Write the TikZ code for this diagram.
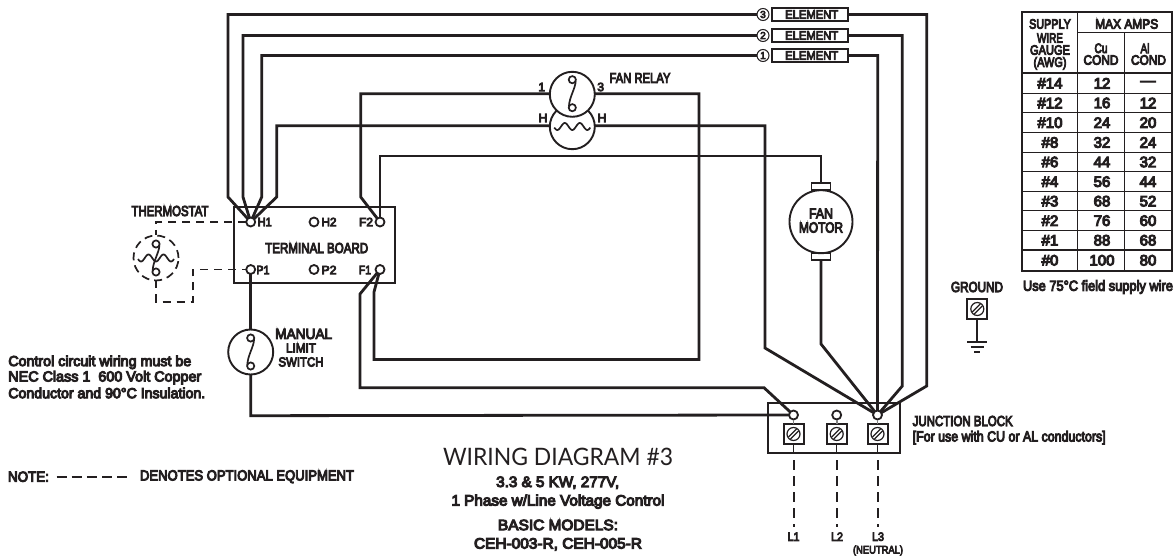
\documentclass[tikz,border=0pt]{standalone}
\usepackage{fontspec}
\usepackage{graphicx}
\setmainfont[FakeBold=7]{Liberation Sans}
\newfontfamily\titlefont{Lato}
\newcommand{\fw}[2]{\resizebox{#1pt}{\height}{#2}}
\definecolor{ink}{HTML}{231F20}
\tikzset{
  x=1pt,y=-1pt,
  every node/.style={text=ink,inner sep=0pt,outer sep=0pt},
  wire/.style={draw=ink,line width=2.8pt,line join=miter},
  opt/.style={draw=ink,line width=1.9pt,dash pattern=on 8pt off 6pt},
  optl/.style={draw=ink,line width=2pt,dash pattern=on 10pt off 6pt},
  term/.style={circle,draw=ink,line width=1.8pt,fill=white,minimum size=9pt},
  coil/.style={circle,draw=ink,line width=1.9pt,fill=white,minimum size=45pt},
  elem/.style={rectangle,draw=ink,line width=2pt,fill=white,minimum width=76pt,minimum height=13pt},
  num/.style={circle,draw=ink,line width=1pt,fill=white,minimum size=12pt,font=\fontsize{10}{10}\selectfont},
  lab/.style={font=\fontsize{14.5}{15}\selectfont},
  tlab/.style={font=\fontsize{12}{12}\selectfont},
  txt/.style={font=\fontsize{14.5}{15}\selectfont,anchor=west},
  ttl/.style={font=\fontsize{15}{15}\selectfont},
  cell/.style={font=\fontsize{15}{15}\selectfont},
  head/.style={font=\fontsize{13.5}{14}\selectfont},
  screwbox/.style={rectangle,draw=ink,line width=2pt,fill=white,minimum width=20pt,minimum height=20pt},
  switchglyph/.pic={
    \draw[ink,line width=1.7pt] (0,-14) circle (3.6);
    \draw[ink,line width=1.7pt] (0,14) circle (3.6);
    \draw[ink,line width=1.7pt] (3.4,-13) .. controls (3.2,-5) and (-3,3) .. (-3.4,13);
  },
  wave/.pic={
    \draw[ink,line width=1.7pt] plot[domain=-18:18,samples=61,smooth] (\x,{3.5*cos(24*\x)});
  },
  screw/.pic={
    \draw[ink,line width=1.2pt] (0,0) circle (6.5);
    \draw[ink,line width=1.2pt] (-5,3) -- (3,-5);
    \draw[ink,line width=1.2pt] (-3,5) -- (5,-3);
  },
}
\begin{document}
\begin{tikzpicture}
\useasboundingbox (0,0) rectangle (1176,556);
\fill[white] (0,0) rectangle (1176,556);

% terminal board
\node[rectangle,draw=ink,line width=1.7pt,minimum width=161pt,minimum height=76pt] (board) at (314.5,245) {};
\node[lab] (tbl) at (316.7,248) {\fw{103}{TERMINAL BOARD}};
\node[tlab] (lh1) at (264.7,222) {\fw{14}{H1}};
\node[tlab] (lh2) at (329,222) {\fw{15}{H2}};
\node[tlab] (lf2) at (366,222) {\fw{14}{F2}};
\node[tlab] (lp1) at (263,270) {\fw{13}{P1}};
\node[tlab] (lp2) at (329,270) {\fw{15}{P2}};
\node[tlab] (lf1) at (365,270) {\fw{12}{F1}};

% elements
\node[num] (c3) at (763,14.5) {3};
\node[num] (c2) at (763,35.5) {2};
\node[num] (c1) at (763,55.5) {1};
\node[elem] (e3) at (810,14.5) {};
\node[elem] (e2) at (810,35.5) {};
\node[elem] (e1) at (810,55.5) {};
\node[tlab] (te3) at (811.7,14.5) {\fw{53}{ELEMENT}};
\node[tlab] (te2) at (811.7,35.5) {\fw{53}{ELEMENT}};
\node[tlab] (te1) at (811.7,55.5) {\fw{53}{ELEMENT}};

% relay
\node[coil] (heat) at (572.3,126.7) {};
\node[coil] (rel) at (572.3,94.3) {};
\pic at (572.3,93.7) {switchglyph};
\pic at (572.3,126.5) {wave};
\node[lab] (trel) at (640,78) {\fw{61}{FAN RELAY}};
\node[tlab] (r1) at (541.7,87) {1};
\node[tlab] (r3) at (600.7,87) {3};
\node[tlab] (rh1) at (543,118) {H};
\node[tlab] (rh2) at (602,118) {H};

% motor
\node[rectangle,draw=ink,line width=1.5pt,fill=white,minimum width=19pt,minimum height=7pt] (bt) at (821,186.7) {};
\node[rectangle,draw=ink,line width=1.5pt,fill=white,minimum width=19pt,minimum height=7pt] (bb) at (821,256.7) {};
\node[circle,draw=ink,line width=1.9pt,fill=white,minimum size=63pt] (motor) at (821,221.7) {};
\node[lab] (tm1) at (821,213.5) {\fw{24}{FAN}};
\node[lab] (tm2) at (821,227.5) {\fw{44}{MOTOR}};

% junction block
\node[rectangle,draw=ink,line width=1.8pt,minimum width=132pt,minimum height=50pt] (jb) at (834,428) {};
\node[term] (t1) at (793.5,415) {};
\node[term] (t2) at (836.7,415) {};
\node[term] (t3) at (877.5,415) {};
\node[screwbox] (s1) at (793.5,434) {};
\node[screwbox] (s2) at (836.7,434) {};
\node[screwbox] (s3) at (877.5,434) {};
\pic at (793.5,434) {screw};
\pic at (836.7,434) {screw};
\pic at (877.5,434) {screw};
\draw[gray,line width=1.6pt] (t1) -- (s1);
\draw[gray,line width=1.6pt] (t2) -- (s2);
\draw[gray,line width=1.6pt] (t3) -- (s3);
\coordinate (b1) at (793.5,453);
\coordinate (b2) at (836.7,453);
\coordinate (b3) at (877.5,453);
\draw[ink,line width=1.4pt] (s1) -- (b1);
\draw[ink,line width=1.4pt] (s2) -- (b2);
\draw[ink,line width=1.4pt] (s3) -- (b3);
\node[tlab] (l1) at (793.5,536.7) {\fw{12}{L1}};
\node[tlab] (l2) at (837,536.7) {\fw{12}{L2}};
\node[tlab] (l3) at (878,536.7) {\fw{12}{L3}};
\node[font=\fontsize{11}{11}\selectfont] (neu) at (878,550.7) {\fw{50}{(NEUTRAL)}};
\draw[optl] (793.5,460) -- (793.5,527);
\draw[optl] (836.7,460) -- (836.7,527);
\draw[optl] (877.7,460) -- (877.7,527);
\node[txt] (jt1) at (912.7,421) {\fw{100}{JUNCTION BLOCK}};
\node[txt] (jt2) at (912.7,437.7) {\fw{193}{[For use with CU or AL conductors]}};

% board terminals
\node[term] (H1) at (250.7,222) {};
\node[term] (H2) at (314,222) {};
\node[term] (F2) at (380,222) {};
\node[term] (P1) at (250.7,269.5) {};
\node[term] (P2) at (314,269.5) {};
\node[term] (F1) at (380,269.5) {};

% wires to elements
\draw[wire] (H1) -- (228,197) -- (228,14.5) -- (c3);
\draw[wire] (H1) -- (243,197) -- (243,35.5) -- (c2);
\draw[wire] (H1) -- (261.7,197) -- (261.7,55.5) -- (c1);
\draw[wire] (H1) -- (276.7,197) -- (276.7,125.7) -- (heat.west |- 0,125.7);
\draw[wire] (e3) ++(38,0) -- (926.7,14.5) -- (926.7,386) -- (t3);
\draw[wire] (e2) ++(38,0) -- (902.3,35.5) -- (902.3,386) -- (t3);
\draw[wire] (e1) ++(38,0) -- (877.7,55.5) -- (t3);

% relay and motor wires
\draw[wire] (F2) -- (360.7,197) -- (360.7,93.7) -- (rel.west |- 0,93.7);
\draw[wire] (F2) -- (380,156) -- (821,156) -- (bt);
\draw[wire] (rel.east |- 0,93.7) -- (699,93.7) -- (699,359.5) -- (374,359.5) -- (374,292) -- (F1);
\draw[wire] (heat.east |- 0,125.7) -- (765,125.7) -- (765,348) -- (t3);
\draw[wire] (bb) -- (821,344) -- (t3);
\draw[wire] (F1) -- (360,294) -- (360,387.7) -- (764,387.7) -- (t1);

% manual limit switch
\node[coil] (mls) at (250.7,352) {};
\pic at (250.7,352) {switchglyph};
\draw[wire] (P1) -- (mls);
\draw[wire] (mls) -- (250.7,415.7) -- (t1);
\node[lab] (ms1) at (303.7,334) {\fw{57}{MANUAL}};
\node[font=\fontsize{13}{13}\selectfont] (ms2) at (301,348) {\fw{30}{LIMIT}};
\node[font=\fontsize{13}{13}\selectfont] (ms3) at (301,362) {\fw{45}{SWITCH}};

% thermostat
\node[circle,draw=ink,line width=1.7pt,dash pattern=on 8pt off 5pt,minimum size=45pt] (th) at (156,258) {};
\pic at (156,258) {switchglyph};
\pic at (156,258) {wave};
\draw[opt] (H1) -- (156,222) -- (th);
\draw[opt] (th) -- (156,302) -- (193,302) -- (193,269.5) -- (P1);
\node[lab] (tth) at (170,211) {\fw{77}{THERMOSTAT}};

% ground
\node[screwbox] (g) at (977.3,309) {};
\pic at (977.3,309) {screw};
\coordinate (gnd) at (977.3,341.7);
\draw[ink,line width=1.9pt] (g) -- (gnd);
\draw[ink,line width=1.9pt] (967,341.7) -- (987,341.7);
\draw[ink,line width=1.9pt] (970.7,346.7) -- (984,346.7);
\draw[ink,line width=1.9pt] (974,351.7) -- (980,351.7);
\node[lab] (tg) at (977,287) {\fw{52}{GROUND}};
\node[txt] (t75) at (1023,287) {\fw{150}{Use 75\textdegree C field supply wire}};

% left texts
\node[txt] (c1t) at (8.3,362.3) {\fw{183}{Control circuit wiring must be}};
\node[txt] (c2t) at (8.3,377.7) {\fw{193}{NEC Class 1\ \ 600 Volt Copper}};
\node[txt] (c3t) at (8.3,393) {\fw{197}{Conductor and 90\textdegree C Insulation.}};
\node[txt] (nt) at (8,476.7) {\fw{41}{NOTE:}};
\node[txt] (nd) at (140,476.7) {\fw{214}{DENOTES OPTIONAL EQUIPMENT}};
\draw[ink,line width=1.9pt,dash pattern=on 10pt off 5.2pt] (nt.east) ++(7.5,0) -- (128,476.7);

% title
\node[font=\titlefont\fontsize{24}{26}\selectfont] (tt) at (558,456.7) {\fw{230}{WIRING DIAGRAM \#3}};
\node[ttl] (t2a) at (557.7,482.7) {\fw{123}{3.3 \& 5 KW, 277V,}};
\node[ttl] (t2b) at (558,501.7) {\fw{213}{1 Phase w/Line Voltage Control}};
\node[ttl] (t2c) at (558,525) {\fw{120}{BASIC MODELS:}};
\node[ttl] (t2d) at (558,544.3) {\fw{168}{CEH-003-R, CEH-005-R}};

% table
\draw[ink,line width=2.1pt] (1022,12.3) rectangle (1172.3,270.7);
\draw[ink,line width=1.5pt] (1077.7,12.3) -- (1077.7,270.7);
\draw[ink,line width=1.5pt] (1124.3,32.3) -- (1124.3,270.7);
\draw[ink,line width=1.2pt] (1077.7,32.3) -- (1172.3,32.3);
\draw[ink,line width=1.9pt] (1022,73.3) -- (1172.3,73.3);
\foreach \yy in {93.3,112.7,132.7,152.3,171.7,191.7,210.7,230.7,250}
  \draw[ink,line width=1.2pt] (1022,\yy) -- (1172.3,\yy);
\node[head] (h1) at (1050,24) {\fw{41.7}{SUPPLY}};
\node[head] (h2) at (1050,38) {\fw{26}{WIRE}};
\node[head] (h3) at (1050,50) {\fw{40}{GAUGE}};
\node[head] (h4) at (1050,63.3) {\fw{33}{(AWG)}};
\node[head] (h5) at (1126.7,24) {\fw{63}{MAX AMPS}};
\node[head] (h6) at (1101,48.3) {\fw{13}{Cu}};
\node[head] (h7) at (1101,60) {\fw{35}{COND}};
\node[head] (h8) at (1145,48.3) {\fw{9}{Al}};
\node[head] (h9) at (1148.5,60) {\fw{35}{COND}};
\foreach \yy/\aa/\bb/\cc [count=\n] in {
  83.3/\#14/12/---,103/\#12/16/12,122.7/\#10/24/20,142.5/\#8/32/24,162/\#6/44/32,
  181.7/\#4/56/44,201.2/\#3/68/52,220.7/\#2/76/60,240.3/\#1/88/68,260.3/\#0/100/80}{
  \node[cell] (ca\n) at (1050,\yy) {\aa};
  \node[cell] (cb\n) at (1102,\yy) {\bb};
  \node[cell] (cc\n) at (1148,\yy) {\cc};
}
\end{tikzpicture}
\end{document}
